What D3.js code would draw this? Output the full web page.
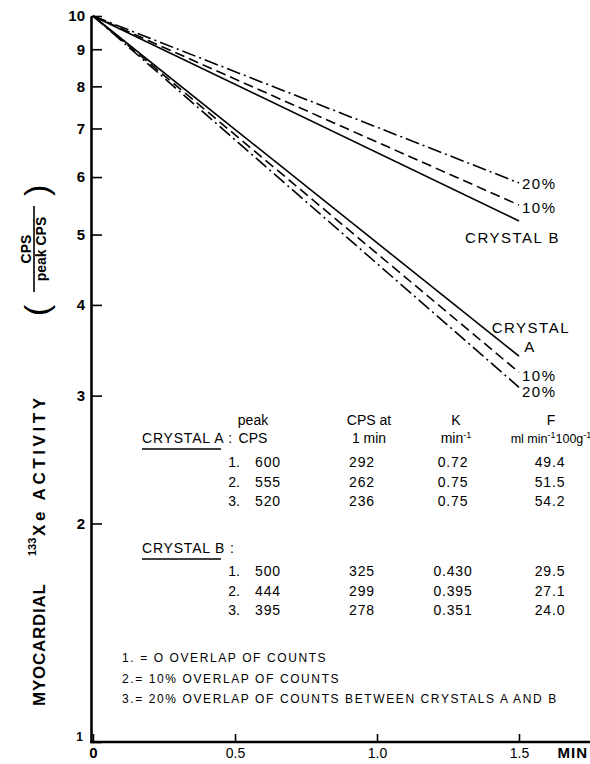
<!DOCTYPE html>
<html lang="en">
  <head>
    <meta charset="UTF-8" />
    <title>Myocardial 133Xe activity</title>
    <script src="https://cdn.jsdelivr.net/npm/d3@7"></script>
    <style>
      body { margin: 0; background: #fff; }
      svg { display: block; font-family: "Liberation Sans", Arial, sans-serif; }
    </style>
  </head>
  <body>
    <div id="chart"></div>
    <script>
      const width = 590;
      const height = 764;

      // 时间 (min) 和各曲线数值
      const times = [0, 1.5];
      const crystalB = [10, 5.22];
      const crystalB10 = [10, 5.49];
      const crystalB20 = [10, 5.89];
      const crystalA = [10, 3.40];
      const crystalA10 = [10, 3.23];
      const crystalA20 = [10, 3.08];

      const yTicks = [1, 2, 3, 4, 5, 6, 7, 8, 9, 10];
      const xTicks = [0, 0.5, 1.0, 1.5];

      // 表格
      const tableHeader1 = ["peak", "CPS at", "K", "F"];
      const rowLabels = ["1.", "2.", "3."];
      const peakA = ["600", "555", "520"];
      const cpsA = ["292", "262", "236"];
      const kA = ["0.72", "0.75", "0.75"];
      const fA = ["49.4", "51.5", "54.2"];
      const peakB = ["500", "444", "395"];
      const cpsB = ["325", "299", "278"];
      const kB = ["0.430", "0.395", "0.351"];
      const fB = ["29.5", "27.1", "24.0"];
      const notes = [
        "1. = O OVERLAP OF COUNTS",
        "2.= 10% OVERLAP OF COUNTS",
        "3.= 20% OVERLAP OF COUNTS BETWEEN CRYSTALS A AND B"
      ];

      const series = [
        { values: crystalB, dash: null },
        { values: crystalB10, dash: "10,5" },
        { values: crystalB20, dash: "14,4,2,4" },
        { values: crystalA, dash: null },
        { values: crystalA10, dash: "10,5" },
        { values: crystalA20, dash: "14,4,2,4" }
      ];

      const x = d3.scaleLinear().domain([0, 1.5]).range([93, 519]);
      const y = d3.scaleLog().domain([1, 10]).range([742, 16]);

      const svg = d3.select("#chart")
        .append("svg")
        .attr("width", width)
        .attr("height", height);

      // 坐标轴
      const yAxis = svg.append("g")
        .attr("transform", `translate(${x(0) - 2},0)`)
        .call(d3.axisLeft(y).tickValues(yTicks).tickFormat(d3.format("d"))
          .tickSizeInner(-11).tickSizeOuter(0).tickPadding(6));
      yAxis.select(".domain").attr("stroke-width", 2.6);
      yAxis.selectAll(".tick line").attr("stroke-width", 1.6);
      yAxis.selectAll(".tick text")
        .attr("font-size", 15).attr("font-weight", "bold").attr("fill", "#000")
        .attr("font-family", "Liberation Sans, Arial, sans-serif");
      yAxis.selectAll(".tick").filter(d => d === 1).select("text")
        .attr("font-size", 12).attr("dy", "-0.1em").attr("x", -8);

      const xAxis = svg.append("g")
        .attr("transform", `translate(0,${y(1)})`)
        .call(d3.axisBottom(x).tickValues(xTicks)
          .tickFormat(d => d === 0 ? "0" : d3.format(".1f")(d))
          .tickSizeInner(-8).tickSizeOuter(0).tickPadding(6));
      xAxis.select(".domain").remove();
      xAxis.selectAll(".tick line").attr("stroke-width", 1.6);
      xAxis.selectAll(".tick text")
        .attr("font-size", 14).attr("fill", "#000")
        .attr("font-family", "Liberation Sans, Arial, sans-serif");
      xAxis.selectAll(".tick").filter(d => d === 0).select("text")
        .attr("font-size", 15).attr("font-weight", "bold").attr("y", 5);
      svg.append("line")
        .attr("x1", x(0) - 3).attr("x2", 590)
        .attr("y1", y(1)).attr("y2", y(1))
        .attr("stroke", "#000").attr("stroke-width", 2.6);
      svg.append("text")
        .attr("x", 588).attr("y", 758)
        .attr("text-anchor", "end")
        .attr("font-size", 15).attr("font-weight", "bold")
        .attr("letter-spacing", 1)
        .text("MIN");

      // 曲线
      const line = d3.line()
        .x((d, i) => x(times[i]))
        .y(d => y(d));
      svg.selectAll("path.curve")
        .data(series)
        .enter()
        .append("path")
        .attr("class", "curve")
        .attr("d", d => line(d.values))
        .attr("fill", "none")
        .attr("stroke", "#000")
        .attr("stroke-width", 1.6)
        .attr("stroke-dasharray", d => d.dash);

      // 曲线标签
      const lab = (tx, ty, t, anchor) => svg.append("text")
        .attr("x", tx).attr("y", ty)
        .attr("font-size", 15).attr("letter-spacing", 1.5)
        .attr("text-anchor", anchor || "start")
        .text(t);
      lab(x(1.5) + 3, y(crystalB20[1]) + 6, "20%");
      lab(x(1.5) + 3, y(crystalB10[1]) + 8, "10%");
      lab(560, y(crystalB[1]) + 22, "CRYSTAL B", "end");
      lab(570, y(crystalA[1]) - 23, "CRYSTAL", "end");
      lab(530, y(crystalA[1]) - 4, "A", "middle");
      lab(x(1.5) + 3, y(crystalA10[1]) + 9, "10%");
      lab(x(1.5) + 3, y(crystalA20[1]) + 10, "20%");

      // y 轴标题
      const title = svg.append("g")
        .attr("transform", "translate(45,706) rotate(-90)");
      title.append("text")
        .attr("x", 0).attr("y", 0)
        .attr("font-size", 17).attr("font-weight", "bold")
        .attr("textLength", 122).attr("lengthAdjust", "spacing")
        .text("MYOCARDIAL");
      title.append("text")
        .attr("x", 150).attr("y", -9)
        .attr("font-size", 11).attr("font-weight", "bold")
        .text("133");
      title.append("text")
        .attr("x", 170).attr("y", 0)
        .attr("font-size", 17).attr("font-weight", "bold")
        .attr("textLength", 138).attr("lengthAdjust", "spacing")
        .text("Xe ACTIVITY");
      title.append("text")
        .attr("x", 390).attr("y", 3)
        .attr("font-size", 34)
        .attr("transform", "scale(1,1)")
        .text("(");
      title.append("text")
        .attr("x", 510).attr("y", 3)
        .attr("font-size", 34)
        .text(")");
      title.append("text")
        .attr("x", 457).attr("y", -14)
        .attr("font-size", 14).attr("font-weight", "bold")
        .attr("text-anchor", "middle")
        .text("CPS");
      title.append("line")
        .attr("x1", 414).attr("x2", 500)
        .attr("y1", -11).attr("y2", -11)
        .attr("stroke", "#000").attr("stroke-width", 1.6);
      title.append("text")
        .attr("x", 457).attr("y", 1)
        .attr("font-size", 14).attr("font-weight", "bold")
        .attr("text-anchor", "middle")
        .text("peak CPS");

      // 表格
      const cols = [240, 268, 362, 453, 550];
      const headCols = [253, 369, 456, 551];
      const table = svg.append("g").attr("font-size", 14).attr("fill", "#000");

      table.selectAll("text.h1").data(tableHeader1).enter().append("text")
        .attr("x", (d, i) => headCols[i]).attr("y", 425)
        .attr("text-anchor", "middle").text(d => d);

      const h2 = [
        [{ t: "CPS" }],
        [{ t: "1 min" }],
        [{ t: "min" }, { t: "-1", sup: true }],
        [{ t: "ml min" }, { t: "-1", sup: true }, { t: "100g" }, { t: "-1", sup: true }]
      ];
      h2.forEach((parts, i) => {
        const t = table.append("text")
          .attr("x", headCols[i]).attr("y", 443)
          .attr("text-anchor", "middle")
          .attr("font-size", i === 3 ? 12.5 : 14);
        parts.forEach(p => {
          t.append("tspan")
            .attr("font-size", p.sup ? 9 : null)
            .attr("dy", p.sup ? -5 : (t.selectAll("tspan").size() > 1 ? 5 : 0))
            .text(p.t);
        });
      });

      const crystalHead = (ty, t) => {
        table.append("text")
          .attr("x", 142).attr("y", ty)
          .attr("letter-spacing", 0.8)
          .text(t);
        table.append("line")
          .attr("x1", 142).attr("x2", 221)
          .attr("y1", ty + 6).attr("y2", ty + 6)
          .attr("stroke", "#000").attr("stroke-width", 1.6);
      };
      crystalHead(443, "CRYSTAL A :");
      crystalHead(553, "CRYSTAL B :");

      const drawRows = (startY, step, peak, cps, k, f) => {
        rowLabels.forEach((r, i) => {
          const ty = startY + i * step;
          const cells = [r, peak[i], cps[i], k[i], f[i]];
          cells.forEach((c, j) => {
            table.append("text")
              .attr("x", cols[j]).attr("y", ty)
              .attr("text-anchor", j === 0 ? "end" : "middle")
              .attr("letter-spacing", j === 0 ? 0 : 0.8)
              .text(c);
          });
        });
      };
      drawRows(467, 19.5, peakA, cpsA, kA, fA);
      drawRows(576, 19.5, peakB, cpsB, kB, fB);

      // 注释
      svg.append("g").selectAll("text").data(notes).enter().append("text")
        .attr("x", 122).attr("y", (d, i) => 662 + i * 20.5)
        .attr("font-size", 12)
        .attr("letter-spacing", 1.6)
        .text(d => d);
    </script>
  </body>
</html>
